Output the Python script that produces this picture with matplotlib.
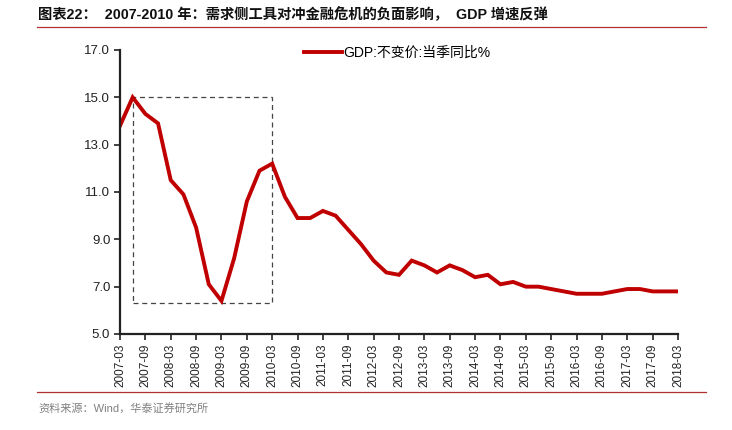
import matplotlib.pyplot as plt
from matplotlib.patches import Rectangle
from matplotlib.lines import Line2D

# quarter labels, 2007-03 .. 2018-03
quarters = [f"{y}-{m}" for y in range(2007, 2019) for m in ("03", "06", "09", "12")][:45]

# GDP:不变价:当季同比 (%)
gdp_yoy = [13.8, 15.0, 14.3, 13.9,
           11.5, 10.9, 9.5, 7.1,
           6.4, 8.2, 10.6, 11.9,
           12.2, 10.8, 9.9, 9.9,
           10.2, 10.0, 9.4, 8.8,
           8.1, 7.6, 7.5, 8.1,
           7.9, 7.6, 7.9, 7.7,
           7.4, 7.5, 7.1, 7.2,
           7.0, 7.0, 6.9, 6.8,
           6.7, 6.7, 6.7, 6.8,
           6.9, 6.9, 6.8, 6.8,
           6.8]

y_ticks = [5.0, 7.0, 9.0, 11.0, 13.0, 15.0, 17.0]

# dashed box highlighting the 2007-2010 period
box_start, box_end = "2007-06", "2010-03"
box_low, box_high = 6.3, 15.0

title = "图表22：  2007-2010 年：需求侧工具对冲金融危机的负面影响，  GDP 增速反弹"
source = "资料来源：Wind，华泰证券研究所"
legend_label = "GDP:不变价:当季同比%"

plt.rcParams['font.family'] = ['Liberation Sans', 'Noto Sans CJK SC', 'DejaVu Sans']

fig = plt.figure(figsize=(7.32, 4.30), dpi=100)
ax = fig.add_axes([120 / 732, 1 - 334 / 430, 558 / 732, 284 / 430])

x = list(range(len(quarters)))
red = '#C00000'
line, = ax.plot(x, gdp_yoy, color=red, lw=2.8, solid_joinstyle='miter')

i0, i1 = quarters.index(box_start), quarters.index(box_end)
ax.add_patch(Rectangle((i0, box_low), i1 - i0, box_high - box_low, fill=False,
                       ls=(0, (4, 3)), lw=0.9, edgecolor='#444444'))

ax.set_xlim(0, len(quarters) - 1)
ax.set_ylim(y_ticks[0], y_ticks[-1])
ax.set_yticks(y_ticks)
ax.set_yticklabels([f"{v:.1f}" for v in y_ticks], fontsize=9.5)
ax.set_xticks(x[::2])
ax.set_xticklabels(quarters[::2], rotation=90, fontsize=8.5)

for s in ('top', 'right'):
    ax.spines[s].set_visible(False)
for s in ('left', 'bottom'):
    ax.spines[s].set_linewidth(1.6)
    ax.spines[s].set_color('#222222')
ax.tick_params(axis='both', direction='out', length=4, width=1.2, color='#222222',
               labelcolor='#222222', pad=3)

ax.legend([line], [legend_label], loc='upper center', bbox_to_anchor=(0.497, 1.06),
          frameon=False, handlelength=2.7, handletextpad=0.1,
          prop={'family': ['Liberation Sans', 'Noto Sans CJK SC'], 'size': 10})

# title, separators and source
fig.text(38 / 732, 1 - 15 / 430, title, fontsize=10.3, fontweight='bold',
         va='center', ha='left', color='#111111')
fig.add_artist(Line2D([37 / 732, 706 / 732], [1 - 27 / 430] * 2, color='#B03030', lw=0.9))
fig.add_artist(Line2D([37 / 732, 706 / 732], [1 - 392 / 430] * 2, color='#B03030', lw=0.9))
fig.text(38 / 732, 1 - 408 / 430, source, fontsize=8, va='center', ha='left',
         color='#808080')

fig.savefig('out.png', dpi=100, facecolor='white')
